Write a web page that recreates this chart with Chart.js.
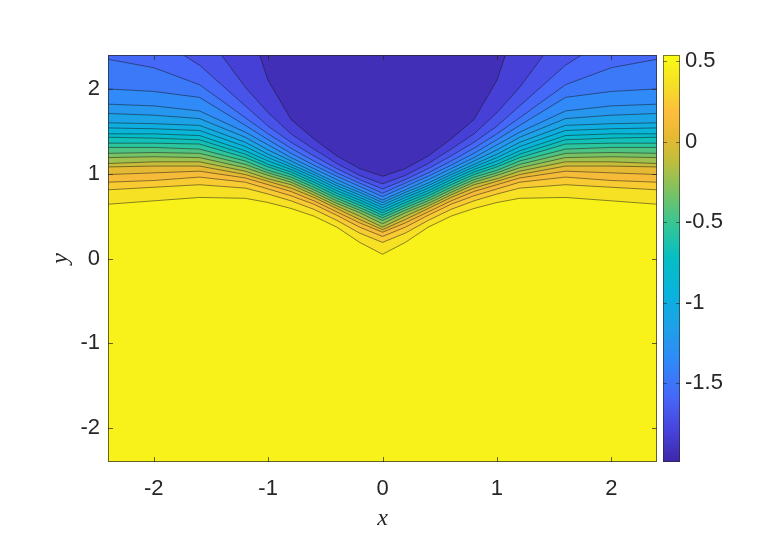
<!DOCTYPE html>
<html>
<head>
<meta charset="utf-8">
<script src="https://cdn.jsdelivr.net/npm/chart.js@4"></script>
<style>
  html, body { margin: 0; padding: 0; background: #fff; }
  #wrap { position: relative; width: 781px; height: 552px; }
  #cbar { position: absolute; left: 640px; top: 0; }
  #main { position: absolute; left: 0; top: 0; }
</style>
</head>
<body>
<div id="wrap">
  <canvas id="main" width="781" height="552"></canvas>
  <canvas id="cbar" width="141" height="552"></canvas>
</div>
<script>
// grille en x commune a toutes les lignes de niveau
const contourX = [-2.4, -2.0, -1.6, -1.2, -1.0, -0.8, -0.6, -0.4, -0.2, 0, 0.2, 0.4, 0.6, 0.8, 1.0, 1.2, 1.6, 2.0, 2.4];

// y de chaque ligne de niveau (du haut vers le bas)
const contourY = [
  [3.9, 3.6, 3.3, 2.9, 2.10, 1.64, 1.41, 1.21, 1.06, 0.97, 1.06, 1.21, 1.41, 1.64, 2.10, 2.9, 3.3, 3.6, 3.9],
  [3.4, 3.1, 2.75, 2.02, 1.72, 1.47, 1.29, 1.12, 0.98, 0.88, 0.98, 1.12, 1.29, 1.47, 1.72, 2.02, 2.75, 3.1, 3.4],
  [2.9, 2.62, 2.28, 1.80, 1.56, 1.37, 1.21, 1.06, 0.93, 0.82, 0.93, 1.06, 1.21, 1.37, 1.56, 1.80, 2.28, 2.62, 2.9],
  [2.35, 2.25, 2.05, 1.66, 1.47, 1.30, 1.15, 1.01, 0.89, 0.77, 0.89, 1.01, 1.15, 1.30, 1.47, 1.66, 2.05, 2.25, 2.35],
  [2.00, 1.97, 1.90, 1.57, 1.40, 1.24, 1.10, 0.97, 0.85, 0.73, 0.85, 0.97, 1.10, 1.24, 1.40, 1.57, 1.90, 1.97, 2.00],
  [1.82, 1.80, 1.74, 1.49, 1.34, 1.19, 1.06, 0.93, 0.81, 0.69, 0.81, 0.93, 1.06, 1.19, 1.34, 1.49, 1.74, 1.80, 1.82],
  [1.71, 1.69, 1.65, 1.43, 1.28, 1.15, 1.02, 0.89, 0.78, 0.66, 0.78, 0.89, 1.02, 1.15, 1.28, 1.43, 1.65, 1.69, 1.71],
  [1.60, 1.59, 1.57, 1.37, 1.23, 1.11, 0.99, 0.86, 0.75, 0.63, 0.75, 0.86, 0.99, 1.11, 1.23, 1.37, 1.57, 1.59, 1.60],
  [1.54, 1.53, 1.51, 1.32, 1.19, 1.08, 0.96, 0.83, 0.72, 0.60, 0.72, 0.83, 0.96, 1.08, 1.19, 1.32, 1.51, 1.53, 1.54],
  [1.47, 1.47, 1.45, 1.27, 1.15, 1.05, 0.93, 0.80, 0.69, 0.57, 0.69, 0.80, 0.93, 1.05, 1.15, 1.27, 1.45, 1.47, 1.47],
  [1.43, 1.42, 1.40, 1.23, 1.11, 1.02, 0.90, 0.77, 0.66, 0.54, 0.66, 0.77, 0.90, 1.02, 1.11, 1.23, 1.40, 1.42, 1.43],
  [1.36, 1.36, 1.35, 1.19, 1.08, 0.99, 0.87, 0.74, 0.63, 0.51, 0.63, 0.74, 0.87, 0.99, 1.08, 1.19, 1.35, 1.36, 1.36],
  [1.31, 1.31, 1.29, 1.15, 1.04, 0.96, 0.84, 0.71, 0.60, 0.48, 0.60, 0.71, 0.84, 0.96, 1.04, 1.15, 1.29, 1.31, 1.31],
  [1.24, 1.25, 1.24, 1.11, 1.01, 0.93, 0.81, 0.68, 0.57, 0.45, 0.57, 0.68, 0.81, 0.93, 1.01, 1.11, 1.24, 1.25, 1.24],
  [1.19, 1.20, 1.19, 1.07, 0.98, 0.90, 0.78, 0.65, 0.54, 0.41, 0.54, 0.65, 0.78, 0.90, 0.98, 1.07, 1.19, 1.20, 1.19],
  [1.12, 1.14, 1.14, 1.03, 0.94, 0.87, 0.75, 0.62, 0.50, 0.37, 0.50, 0.62, 0.75, 0.87, 0.94, 1.03, 1.14, 1.14, 1.12],
  [1.08, 1.09, 1.09, 0.99, 0.91, 0.83, 0.72, 0.59, 0.46, 0.34, 0.46, 0.59, 0.72, 0.83, 0.91, 0.99, 1.09, 1.09, 1.08],
  [0.99, 1.01, 1.03, 0.95, 0.87, 0.79, 0.68, 0.55, 0.42, 0.31, 0.42, 0.55, 0.68, 0.79, 0.87, 0.95, 1.03, 1.01, 0.99],
  [0.90, 0.92, 0.96, 0.90, 0.82, 0.74, 0.64, 0.51, 0.37, 0.26, 0.37, 0.51, 0.64, 0.74, 0.82, 0.90, 0.96, 0.92, 0.90],
  [0.81, 0.84, 0.87, 0.83, 0.76, 0.68, 0.58, 0.45, 0.30, 0.19, 0.30, 0.45, 0.58, 0.68, 0.76, 0.83, 0.87, 0.84, 0.81],
  [0.64, 0.68, 0.72, 0.71, 0.66, 0.59, 0.50, 0.37, 0.19, 0.05, 0.19, 0.37, 0.50, 0.59, 0.66, 0.71, 0.72, 0.68, 0.64],
];

// valeur de chaque ligne de niveau (meme ordre)
const niveaux = [-1.875, -1.76, -1.645, -1.53, -1.415, -1.30, -1.185, -1.07, -0.955, -0.84, -0.725,
  -0.61, -0.495, -0.38, -0.265, -0.15, -0.035, 0.08, 0.195, 0.31, 0.425];

const valeurMin = -1.99;
const valeurMax = 0.54;

const ticksX = [-2, -1, 0, 1, 2];
const ticksY = [-2, -1, 0, 1, 2];
const ticksBarre = [-1.5, -1, -0.5, 0, 0.5];

// approximation de parula
const PARULA = [
  [0.00, 62, 38, 168],
  [0.08, 71, 68, 222],
  [0.16, 70, 104, 248],
  [0.25, 48, 138, 248],
  [0.33, 30, 160, 232],
  [0.42, 8, 180, 220],
  [0.50, 5, 190, 195],
  [0.58, 50, 198, 152],
  [0.66, 120, 194, 100],
  [0.74, 192, 190, 60],
  [0.80, 232, 185, 50],
  [0.86, 253, 190, 60],
  [0.92, 245, 220, 40],
  [1.00, 249, 251, 20],
];

function couleurParula(v) {
  const t = Math.min(1, Math.max(0, (v - valeurMin) / (valeurMax - valeurMin)));
  for (let i = 1; i < PARULA.length; i++) {
    if (t <= PARULA[i][0]) {
      const a = PARULA[i - 1], b = PARULA[i];
      const f = (t - a[0]) / (b[0] - a[0]);
      const c = [1, 2, 3].map((k) => Math.round(a[k] + (b[k] - a[k]) * f));
      return `rgb(${c[0]}, ${c[1]}, ${c[2]})`;
    }
  }
  return 'rgb(249, 251, 20)';
}

// couleur d'une bande = milieu entre ses deux niveaux
const bornes = [valeurMin, ...niveaux, valeurMax];
function couleurBande(k) {
  return couleurParula((bornes[k] + bornes[k + 1]) / 2);
}

const POLICE = { family: '"Liberation Sans", Arial, Helvetica, sans-serif', size: 22 };
const POLICE_TITRE = { family: '"Liberation Serif", "DejaVu Serif", serif', style: 'italic', size: 24 };
const GRIS = '#262626';

// fond = bande au-dessus du dernier niveau
const fondZone = {
  id: 'fondZone',
  beforeDatasetsDraw(chart) {
    const { ctx, chartArea: a } = chart;
    ctx.save();
    ctx.fillStyle = couleurBande(niveaux.length);
    ctx.fillRect(a.left, a.top, a.right - a.left, a.bottom - a.top);
    ctx.restore();
  },
};

// cadre + petites graduations vers l'interieur (style matlab)
const cadreAxes = {
  id: 'cadreAxes',
  afterDraw(chart) {
    const { ctx, chartArea: a, scales } = chart;
    ctx.save();
    ctx.strokeStyle = 'rgba(38,38,38,0.7)';
    ctx.lineWidth = 1;
    ctx.strokeRect(a.left + 0.5, a.top + 0.5, a.right - a.left - 1, a.bottom - a.top - 1);
    ctx.beginPath();
    ticksX.forEach((v) => {
      const px = Math.round(scales.x.getPixelForValue(v)) + 0.5;
      ctx.moveTo(px, a.bottom); ctx.lineTo(px, a.bottom - 5);
      ctx.moveTo(px, a.top); ctx.lineTo(px, a.top + 5);
    });
    ticksY.forEach((v) => {
      const py = Math.round(scales.y.getPixelForValue(v)) + 0.5;
      ctx.moveTo(a.left, py); ctx.lineTo(a.left + 5, py);
      ctx.moveTo(a.right, py); ctx.lineTo(a.right - 5, py);
    });
    ctx.stroke();
    ctx.restore();
  },
};

const jeux = contourY.map((ys, i) => ({
  data: ys.map((y, j) => ({ x: contourX[j], y })),
  borderColor: 'rgba(20,20,20,0.7)',
  borderWidth: 0.7,
  backgroundColor: couleurBande(i),
  fill: 'end',
  pointRadius: 0,
  tension: 0,
  clip: 0,
}));

const formatTick = (v) => String(v);

new Chart(document.getElementById('main'), {
  type: 'line',
  data: { datasets: jeux },
  options: {
    responsive: false,
    animation: false,
    devicePixelRatio: 1,
    layout: { padding: { left: 46, right: 124, top: 55, bottom: 0 } },
    plugins: { legend: { display: false }, tooltip: { enabled: false } },
    scales: {
      x: {
        type: 'linear',
        min: -2.4,
        max: 2.4,
        afterBuildTicks: (s) => { s.ticks = ticksX.map((v) => ({ value: v })); },
        afterFit: (s) => { s.height = 90; },
        grid: { display: false, drawTicks: false },
        border: { display: false },
        ticks: { font: POLICE, color: GRIS, padding: 14, maxRotation: 0, callback: formatTick },
        title: { display: true, text: 'x', font: POLICE_TITRE, color: GRIS, padding: { top: 0, bottom: 19 } },
      },
      y: {
        type: 'linear',
        min: -2.4,
        max: 2.4,
        afterBuildTicks: (s) => { s.ticks = ticksY.map((v) => ({ value: v })); },
        afterFit: (s) => { s.width = 62; },
        grid: { display: false, drawTicks: false },
        border: { display: false },
        ticks: { font: POLICE, color: GRIS, padding: 8, callback: formatTick },
        title: { display: true, text: 'y', font: POLICE_TITRE, color: GRIS, padding: { top: 0, bottom: 0 } },
      },
    },
  },
  plugins: [fondZone, cadreAxes],
});

// barre de couleur
const cadreBarre = {
  id: 'cadreBarre',
  afterDraw(chart) {
    const { ctx, chartArea: a, scales } = chart;
    ctx.save();
    ctx.strokeStyle = 'rgba(38,38,38,0.6)';
    ctx.lineWidth = 1;
    ctx.strokeRect(a.left + 0.5, a.top + 0.5, a.right - a.left - 1, a.bottom - a.top - 1);
    ctx.beginPath();
    ticksBarre.forEach((v) => {
      const py = Math.round(scales.y.getPixelForValue(v)) + 0.5;
      ctx.moveTo(a.right, py); ctx.lineTo(a.right - 4, py);
      ctx.moveTo(a.left, py); ctx.lineTo(a.left + 4, py);
    });
    ctx.stroke();
    ctx.restore();
  },
};

new Chart(document.getElementById('cbar'), {
  type: 'bar',
  data: {
    labels: [''],
    datasets: [{
      data: [[valeurMin, valeurMax]],
      barPercentage: 1,
      categoryPercentage: 1,
      borderWidth: 0,
      backgroundColor: (c) => {
        const a = c.chart.chartArea;
        if (!a) return null;
        const g = c.chart.ctx.createLinearGradient(0, a.bottom, 0, a.top);
        PARULA.forEach((p) => g.addColorStop(p[0], `rgb(${p[1]}, ${p[2]}, ${p[3]})`));
        return g;
      },
    }],
  },
  options: {
    responsive: false,
    animation: false,
    devicePixelRatio: 1,
    layout: { padding: { left: 23, right: 0, top: 55, bottom: 90 } },
    plugins: { legend: { display: false }, tooltip: { enabled: false } },
    scales: {
      x: { display: false },
      y: {
        position: 'right',
        min: valeurMin,
        max: valeurMax,
        afterBuildTicks: (s) => { s.ticks = ticksBarre.map((v) => ({ value: v })); },
        afterFit: (s) => { s.width = 101; },
        grid: { display: false, drawTicks: false },
        border: { display: false },
        ticks: { font: POLICE, color: GRIS, padding: 5, callback: formatTick },
      },
    },
  },
  plugins: [cadreBarre],
});
</script>
</body>
</html>
